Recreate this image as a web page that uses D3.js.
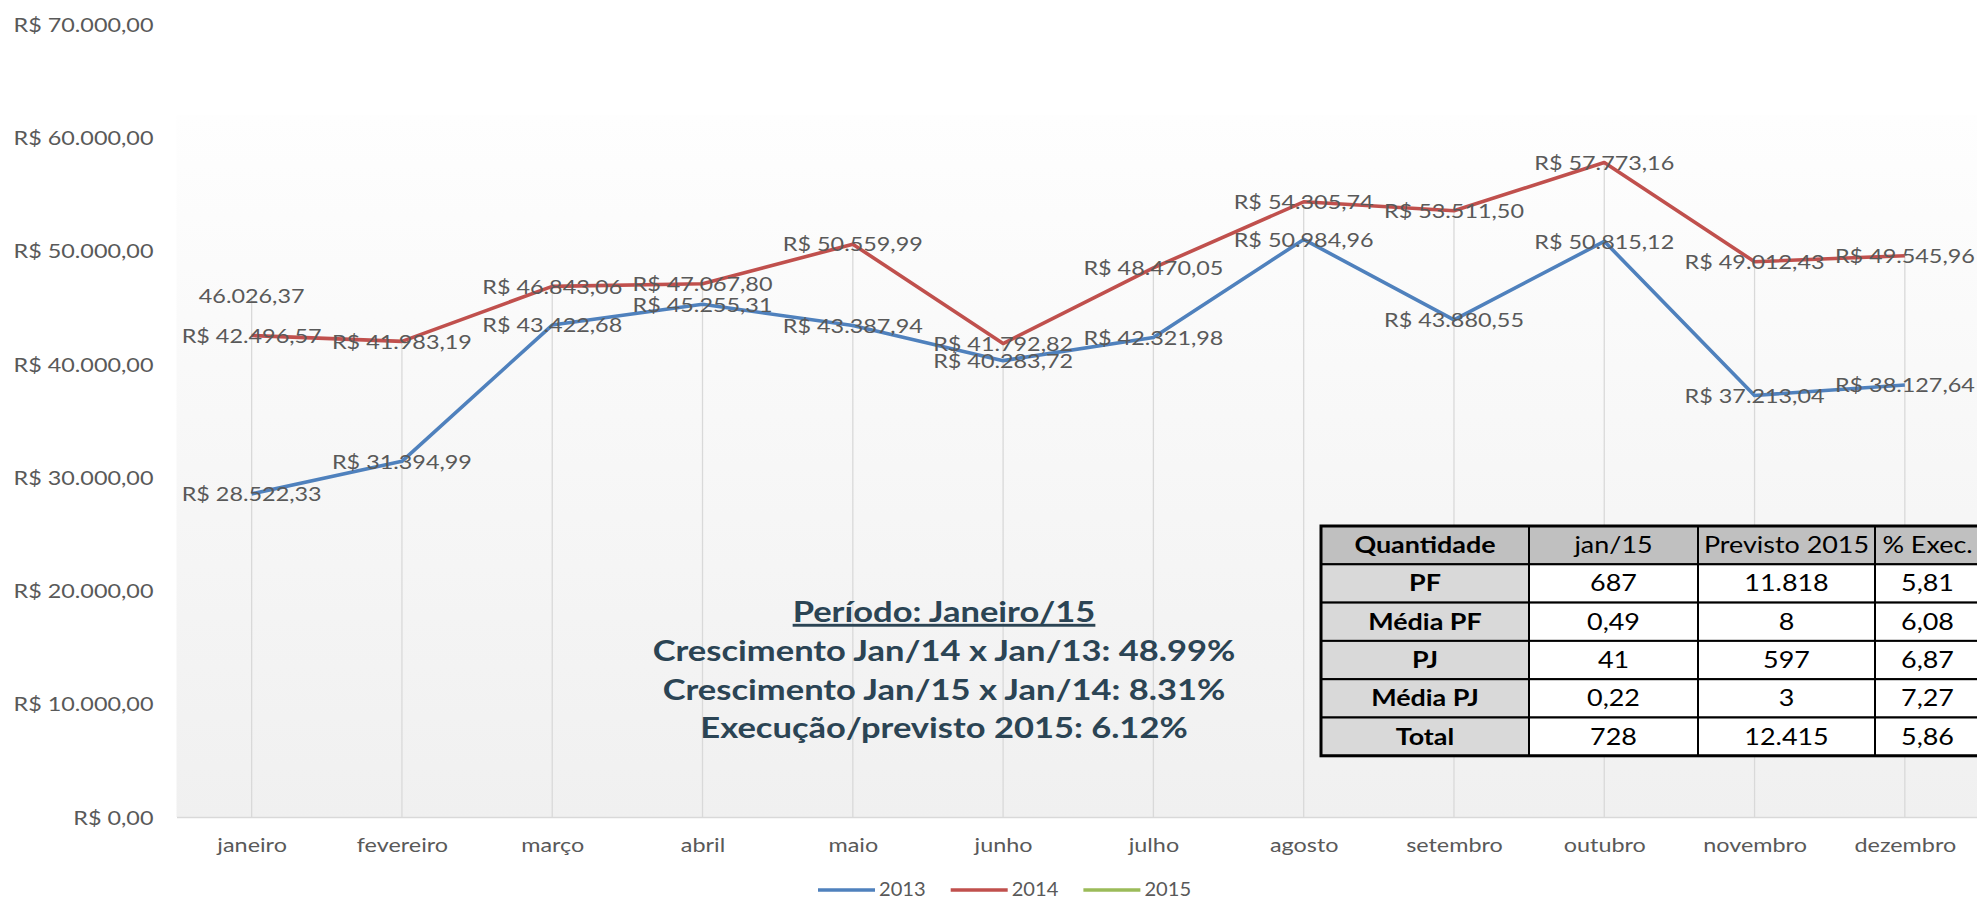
<!DOCTYPE html>
<meta charset="utf-8">
<script src="https://cdn.jsdelivr.net/npm/d3@7"></script>
<style>
  body { margin: 0; background: #fff; }
</style>
<div id="my_dataviz"></div>

<script>
// data
var months = ["janeiro", "fevereiro", "março", "abril", "maio", "junho",
              "julho", "agosto", "setembro", "outubro", "novembro", "dezembro"];
var v2013 = [28522.33, 31394.99, 43422.68, 45255.31, 43387.94, 40283.72,
             42321.98, 50984.96, 43880.55, 50815.12, 37213.04, 38127.64];
var v2014 = [42496.57, 41983.19, 46843.06, 47067.80, 50559.99, 41792.82,
             48470.05, 54305.74, 53511.50, 57773.16, 49012.43, 49545.96];
var v2015 = [46026.37];
var seriesNames = ["2013", "2014", "2015"];
var yTicks = [0, 10000, 20000, 30000, 40000, 50000, 60000, 70000];

var notes = ["Período: Janeiro/15",
             "Crescimento Jan/14 x Jan/13: 48.99%",
             "Crescimento Jan/15 x Jan/14: 8.31%",
             "Execução/previsto 2015: 6.12%"];

var tableCols = ["Quantidade", "jan/15", "Previsto 2015", "% Exec."];
var tableRowNames = ["PF", "Média PF", "PJ", "Média PJ", "Total"];
var tableJan15 = ["687", "0,49", "41", "0,22", "728"];
var tablePrevisto = ["11.818", "8", "597", "3", "12.415"];
var tableExec = ["5,81", "6,08", "6,87", "7,27", "5,86"];

// look
var colors = ["#4f81bd", "#c0504d", "#9bbb59"];
var labelColor = "#595959";
var font = "Lato, 'Open Sans', sans-serif";
var SX = 1.17; // the picture is stretched sideways

var W = 1977, H = 901;

var svg = d3.select("#my_dataviz")
  .append("svg")
    .attr("width", W)
    .attr("height", H);

var ptBR = d3.formatLocale({decimal: ",", thousands: ".", grouping: [3], currency: ["R$ ", ""]});
var fmtMoney = ptBR.format("$,.2f");
var fmtNum = ptBR.format(",.2f");

// scales
var x = d3.scalePoint()
  .domain(months)
  .range([176.5, 1980])
  .padding(0.5);

var y = d3.scaleLinear()
  .domain([0, 70000])
  .range([817, 24]);

// plot area background
var defs = svg.append("defs");
var grad = defs.append("linearGradient")
  .attr("id", "bg").attr("x1", 0).attr("y1", 0).attr("x2", 0).attr("y2", 1);
grad.append("stop").attr("offset", "0%").attr("stop-color", "#fefefe");
grad.append("stop").attr("offset", "100%").attr("stop-color", "#f0f0f0");

svg.append("rect")
  .attr("x", 176.5)
  .attr("y", y(60000) - 22)
  .attr("width", W)
  .attr("height", y(0) - y(60000) + 22)
  .attr("fill", "url(#bg)");

// drop lines from the highest point of each month
var allSeries = [v2013, v2014, v2015];
svg.append("g")
  .selectAll("line")
  .data(months)
  .enter()
  .append("line")
    .attr("x1", function(d) { return x(d); })
    .attr("x2", function(d) { return x(d); })
    .attr("y1", function(d, i) {
      var m = d3.max(allSeries, function(s) { return s[i] == null ? 0 : s[i]; });
      return y(m);
    })
    .attr("y2", y(0))
    .attr("stroke", "#d9d9d9")
    .attr("stroke-width", 1.3);

// Y axis
var yAxis = svg.append("g")
  .attr("transform", "translate(164,0)")
  .call(d3.axisLeft(y).tickValues(yTicks).tickFormat(fmtMoney).tickSize(0).tickPadding(9));
yAxis.select(".domain").remove();
yAxis.selectAll("text")
  .attr("font-family", font)
  .attr("font-size", 20)
  .attr("fill", labelColor)
  .attr("dy", "0.36em")
  .attr("transform", "scale(" + SX + ",1)");

// X axis
var xAxis = svg.append("g")
  .attr("transform", "translate(0," + y(0) + ")")
  .call(d3.axisBottom(x).tickSize(0).tickSizeOuter(0).tickPadding(21));
xAxis.select(".domain")
  .attr("stroke", "#d9d9d9")
  .attr("stroke-width", 1.5);
xAxis.selectAll("text")
  .attr("font-family", font)
  .attr("font-size", 20)
  .attr("fill", labelColor)
  .attr("transform", "scale(" + SX + ",1)");

// lines
var line = d3.line()
  .x(function(d, i) { return x(months[i]); })
  .y(function(d) { return y(d); });

svg.append("g")
  .selectAll("path")
  .data(allSeries)
  .enter()
  .append("path")
    .attr("d", function(d) { return line(d); })
    .attr("fill", "none")
    .attr("stroke", function(d, i) { return colors[i]; })
    .attr("stroke-width", 3.6)
    .attr("stroke-linejoin", "round");

// data labels, centered on the points
var labelData = [];
allSeries.forEach(function(s, si) {
  s.forEach(function(v, i) {
    labelData.push({v: v, m: months[i], s: si});
  });
});

svg.append("g")
  .selectAll("text")
  .data(labelData)
  .enter()
  .append("text")
    .attr("transform", function(d) {
      return "translate(" + x(d.m) + "," + y(d.v) + ") scale(" + SX + ",1)";
    })
    .attr("text-anchor", "middle")
    .attr("dy", "0.36em")
    .attr("font-family", font)
    .attr("font-size", 20)
    .attr("fill", labelColor)
    .text(function(d) { return d.s == 2 ? fmtNum(d.v) : fmtMoney(d.v); });

// legend
var legend = svg.append("g");
var lx = 818, ly = 890;
seriesNames.forEach(function(name, i) {
  legend.append("line")
    .attr("x1", lx).attr("x2", lx + 57)
    .attr("y1", ly).attr("y2", ly)
    .attr("stroke", colors[i])
    .attr("stroke-width", 3.6);
  var t = legend.append("text")
    .attr("transform", "translate(" + (lx + 61) + "," + (ly + 6) + ") scale(1.06,1)")
    .attr("font-family", font)
    .attr("font-size", 19)
    .attr("fill", labelColor)
    .text(name);
  lx = lx + 61 + t.node().getComputedTextLength() * 1.06 + 25;
});

// note in the middle
var noteY = [622, 661, 700, 738];
svg.append("g")
  .selectAll("text")
  .data(notes)
  .enter()
  .append("text")
    .attr("transform", function(d, i) { return "translate(944," + noteY[i] + ") scale(1.19,1)"; })
    .attr("text-anchor", "middle")
    .attr("font-family", font)
    .attr("font-weight", "bold")
    .attr("font-size", 29)
    .attr("fill", "#2b4454")
    .attr("text-decoration", function(d, i) { return i == 0 ? "underline" : null; })
    .text(function(d) { return d; });

// table
var colEdges = [1321, 1529, 1698, 1875, 1980];
var rowTop = 526, rowH = 38.3;
var tableRows = [tableCols];
tableRowNames.forEach(function(n, i) {
  tableRows.push([n, tableJan15[i], tablePrevisto[i], tableExec[i]]);
});

var table = svg.append("g");
tableRows.forEach(function(row, r) {
  row.forEach(function(cell, c) {
    var fill = r == 0 ? "#c0c0c0" : (c == 0 ? "#d9d9d9" : "#ffffff");
    table.append("rect")
      .attr("x", colEdges[c])
      .attr("y", rowTop + r * rowH)
      .attr("width", colEdges[c + 1] - colEdges[c])
      .attr("height", rowH)
      .attr("fill", fill)
      .attr("stroke", "#000")
      .attr("stroke-width", 2);
    table.append("text")
      .attr("transform", "translate(" + (colEdges[c] + colEdges[c + 1]) / 2 + "," +
            (rowTop + r * rowH + rowH / 2 + 8) + ") scale(" + SX + ",1)")
      .attr("text-anchor", "middle")
      .attr("font-family", font)
      .attr("font-size", 23)
      .attr("font-weight", (c == 0) ? "bold" : "normal")
      .attr("fill", "#000")
      .text(cell);
  });
});
table.append("rect")
  .attr("x", colEdges[0])
  .attr("y", rowTop)
  .attr("width", colEdges[4] - colEdges[0])
  .attr("height", rowH * tableRows.length)
  .attr("fill", "none")
  .attr("stroke", "#000")
  .attr("stroke-width", 3);
</script>
